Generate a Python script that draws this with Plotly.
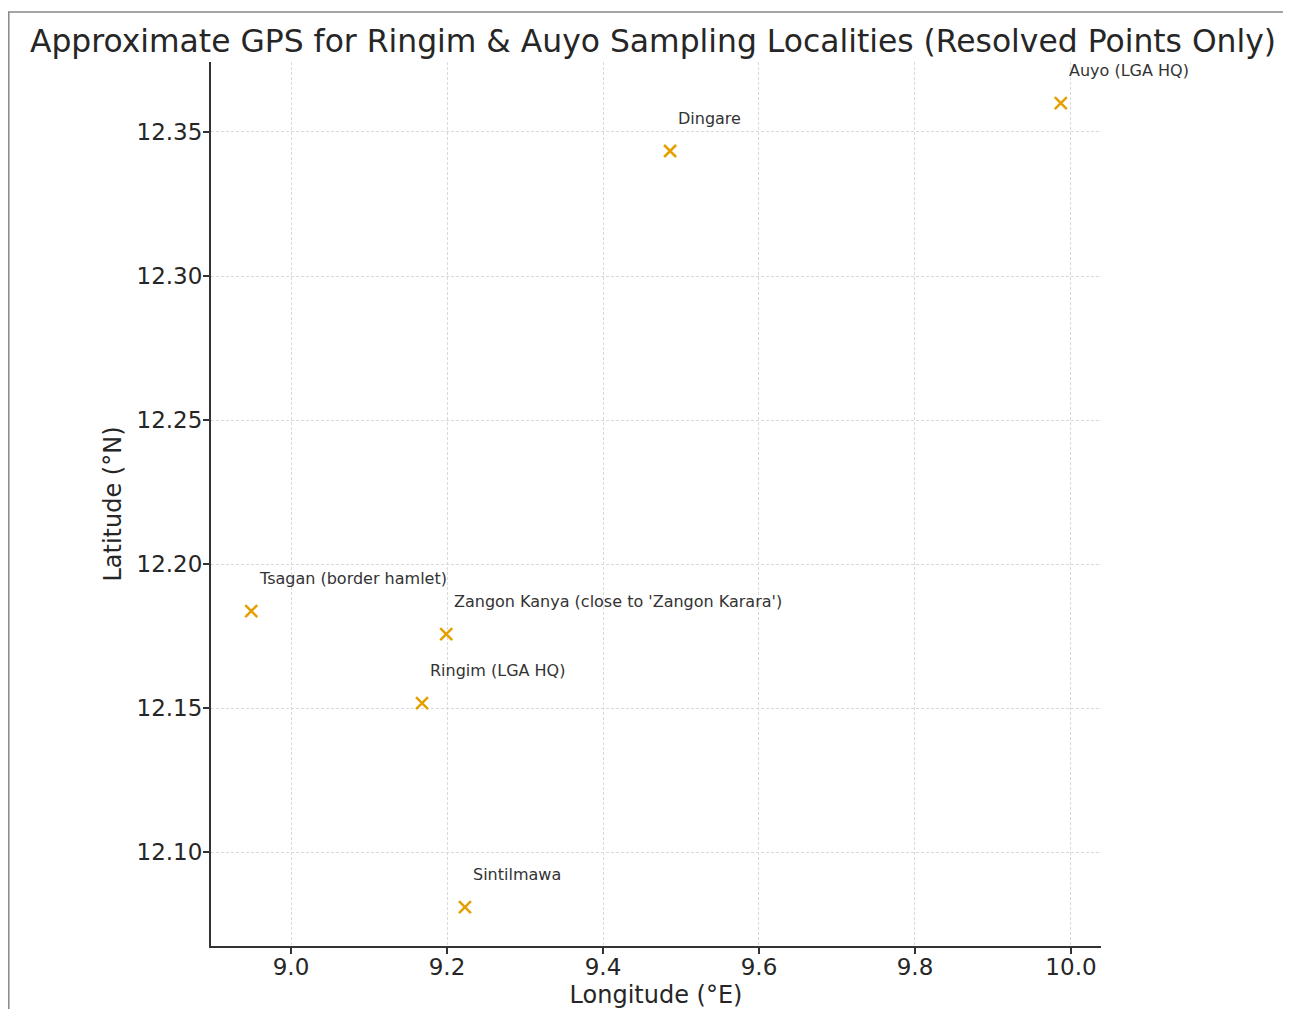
import plotly.graph_objects as go

names = ["Auyo (LGA HQ)", "Dingare", "Tsagan (border hamlet)",
         "Zangon Kanya (close to 'Zangon Karara')", "Ringim (LGA HQ)", "Sintilmawa"]
lons = [9.987, 9.486, 8.949, 9.199, 9.168, 9.223]
lats = [12.360, 12.3434, 12.1837, 12.1757, 12.1517, 12.0809]

x_ticks = [9.0, 9.2, 9.4, 9.6, 9.8, 10.0]
y_ticks = [12.10, 12.15, 12.20, 12.25, 12.30, 12.35]

FONT = "DejaVu Sans"
TXT = "#262626"

W, H = 1275, 1001
L, T = 203, 54
R = W - 1093
B = H - 938

fig = go.Figure()
fig.add_trace(go.Scatter(
    x=lons, y=lats, mode="markers",
    marker=dict(symbol="x-thin", size=12, color="#E69F00",
                line=dict(color="#E69F00", width=2.5)),
    showlegend=False, hoverinfo="skip"))

for n, lo, la in zip(names, lons, lats):
    fig.add_annotation(x=lo, y=la, text=n, showarrow=False,
                       xanchor="left", yanchor="bottom", xshift=6, yshift=21,
                       font=dict(family=FONT, size=16, color="#333333"))

fig.add_shape(type="rect", xref="paper", yref="paper",
              x0=-0.2272, x1=1.4, y0=-0.2, y1=1.0566,
              line=dict(color="#888888", width=1.5), fillcolor="rgba(0,0,0,0)",
              layer="below")

fig.update_layout(
    width=W, height=H,
    margin=dict(l=L, r=R, t=T, b=B, autoexpand=False),
    paper_bgcolor="white", plot_bgcolor="white",
    font=dict(family=FONT, color=TXT),
    title=dict(text="Approximate GPS for Ringim & Auyo Sampling Localities (Resolved Points Only)",
               x=645 / W, xanchor="center", y=1 - 33 / H, yanchor="middle",
               font=dict(family=FONT, size=31.4, color=TXT)),
    xaxis=dict(range=[8.8974, 10.0385], tickvals=x_ticks,
               ticktext=[f"{v:.1f}" for v in x_ticks],
               showgrid=True, gridcolor="#d9d9d9", griddash="3px,2px", gridwidth=1,
               showline=True, linecolor="#333333", linewidth=2, mirror=False,
               ticks="outside", ticklen=6, tickwidth=1.5, tickcolor="#333333",
               ticklabelstandoff=-7,
               tickfont=dict(family=FONT, size=23, color=TXT), zeroline=False,
               title=dict(text="Longitude (°E)", font=dict(family=FONT, size=24, color=TXT), standoff=12)),
    yaxis=dict(range=[12.0674, 12.3743], tickvals=y_ticks,
               ticktext=[f"{v:.2f}" for v in y_ticks],
               showgrid=True, gridcolor="#d9d9d9", griddash="3px,2px", gridwidth=1,
               showline=True, linecolor="#333333", linewidth=2, mirror=False,
               ticks="outside", ticklen=6, tickwidth=1.5, tickcolor="#333333",
               ticklabelstandoff=-4,
               tickfont=dict(family=FONT, size=23, color=TXT), zeroline=False,
               title=dict(text="Latitude (°N)", font=dict(family=FONT, size=24, color=TXT), standoff=8)),
)

fig.write_html("out.html")
